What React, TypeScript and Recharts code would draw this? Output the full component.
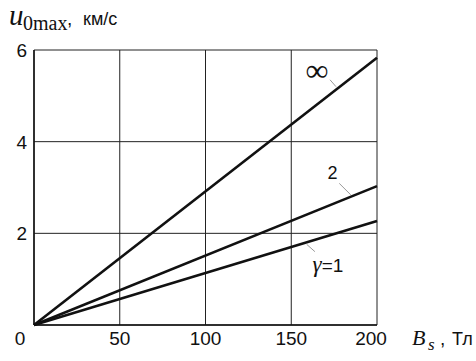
import { CartesianGrid, Customized, Line, LineChart, ReferenceDot, ReferenceLine, XAxis, YAxis } from "recharts"

// magnetic field B_s, Тл and max velocity u_0max, км/с for each gamma
const bField = [0, 200]
const uInfinity = [0, 5.83]
const uGamma2 = [0, 3.03]
const uGamma1 = [0, 2.27]
const xTicks = [0, 50, 100, 150, 200]
const yTicks = [0, 2, 4, 6]

const data = bField.map((b, i) => ({ b, inf: uInfinity[i], g2: uGamma2[i], g1: uGamma1[i] }))

const sans = '"Liberation Sans", Arial, sans-serif'
const serif = '"Liberation Serif", "Times New Roman", serif'
const ink = "#111"

function XTick({ x, y, payload }: any) {
  // the origin "0" sits under the y labels, the "200" a little to the left
  const shift = payload.value === 0 ? -14 : payload.value === 200 ? -6 : 0
  return (
    <text x={x + shift} y={y + 20} textAnchor="middle" fontSize={19} fontFamily={sans} fill={ink}>
      {payload.value}
    </text>
  )
}

function YTick({ x, y, payload }: any) {
  if (payload.value === 0) return <g />
  return (
    <text x={x - 7} y={y + 7} textAnchor="end" fontSize={19} fontFamily={sans} fill={ink}>
      {payload.value}
    </text>
  )
}

function AxisTitles() {
  return (
    <g fill={ink}>
      <text x={9} y={25} fontFamily={serif} fontStyle="italic" fontSize={29}>u</text>
      <text x={23} y={30} fontFamily={serif} fontSize={20}>0max</text>
      <text x={67} y={25} fontFamily={sans} fontSize={19}>,</text>
      <text x={83} y={25} fontFamily={sans} fontSize={18}>км/с</text>
      <text x={412} y={345} fontFamily={serif} fontStyle="italic" fontSize={22}>B</text>
      <text x={428} y={350} fontFamily={serif} fontStyle="italic" fontSize={17}>s</text>
      <text x={440} y={345} fontFamily={sans} fontSize={19}>,</text>
      <text x={452} y={345} fontFamily={sans} fontSize={18}>Тл</text>
    </g>
  )
}

const labelAt = (content: any) => (p: any) => (
  <g transform={`translate(${p.cx},${p.cy})`}>{content}</g>
)

export default function App() {
  return (
    <div style={{ position: "absolute", left: 0, top: 0, background: "#fff" }}>
      <LineChart width={476} height={361} data={data} margin={{ top: 50, right: 99, bottom: 0, left: 0 }}>
        <CartesianGrid stroke="#222" strokeWidth={1} horizontal vertical />
        <XAxis
          type="number"
          dataKey="b"
          domain={[0, 200]}
          ticks={xTicks}
          height={36}
          tickLine={false}
          tickSize={0}
          tickMargin={0}
          axisLine={{ stroke: ink, strokeWidth: 1.5 }}
          tick={<XTick />}
        />
        <YAxis
          type="number"
          domain={[0, 6]}
          ticks={yTicks}
          width={34}
          tickLine={false}
          tickSize={0}
          tickMargin={0}
          axisLine={{ stroke: ink, strokeWidth: 1.5 }}
          tick={<YTick />}
        />
        <Line type="linear" dataKey="inf" stroke={ink} strokeWidth={2.6} dot={false} isAnimationActive={false} />
        <Line type="linear" dataKey="g2" stroke={ink} strokeWidth={2.6} dot={false} isAnimationActive={false} />
        <Line type="linear" dataKey="g1" stroke={ink} strokeWidth={2.6} dot={false} isAnimationActive={false} />

        <ReferenceLine segment={[{ x: 172.6, y: 5.35 }, { x: 176.1, y: 5.2 }]} stroke="#999" strokeWidth={1} />
        <ReferenceLine segment={[{ x: 178, y: 3.09 }, { x: 184.7, y: 2.84 }]} stroke="#999" strokeWidth={1} />
        <ReferenceLine segment={[{ x: 159, y: 1.76 }, { x: 163.8, y: 1.6 }]} stroke="#999" strokeWidth={1} />

        <ReferenceDot
          x={165}
          y={5.5}
          r={0}
          shape={labelAt(
            <text textAnchor="middle" dy={8} fontFamily={serif} fontSize={32} fill={ink}>∞</text>
          )}
        />
        <ReferenceDot
          x={174}
          y={3.32}
          r={0}
          shape={labelAt(
            <text textAnchor="middle" dy={6} fontFamily={sans} fontSize={18} fill={ink}>2</text>
          )}
        />
        <ReferenceDot
          x={171.4}
          y={1.31}
          r={0}
          shape={labelAt(
            <text textAnchor="middle" dy={7} fill={ink}>
              <tspan fontFamily={serif} fontStyle="italic" fontSize={23}>γ</tspan>
              <tspan fontFamily={sans} fontSize={19}>=1</tspan>
            </text>
          )}
        />
        <Customized component={AxisTitles} />
      </LineChart>
    </div>
  )
}
